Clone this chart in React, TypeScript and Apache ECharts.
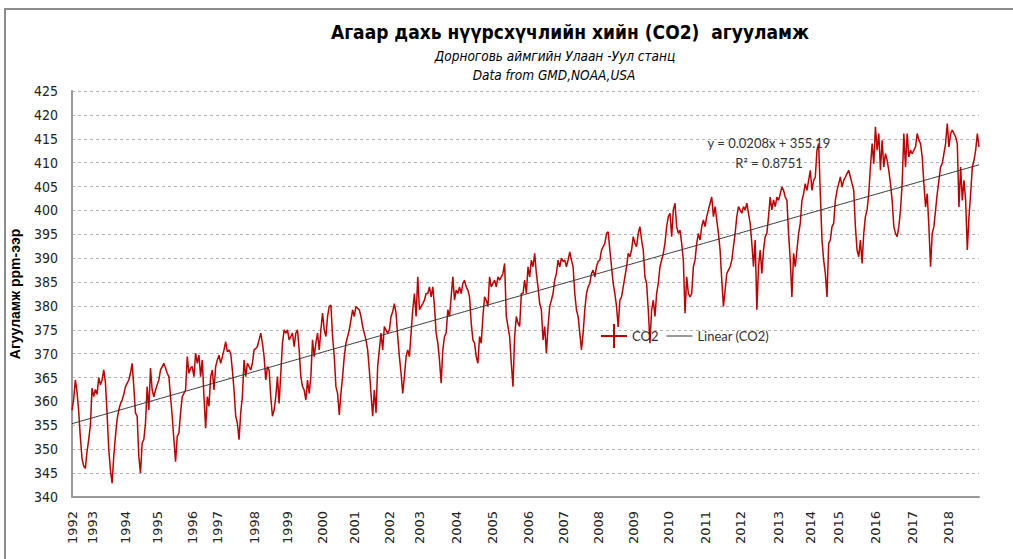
import React, { useEffect, useRef } from "react";
import * as echarts from "echarts";

// Year labels (x axis ticks) and the CO2 samples read for each year (ppm)
const yearLabels = [
  "1992", "1993", "1994", "1995", "1996", "1997", "1998", "1999", "2000",
  "2001", "2002", "2003", "2004", "2005", "2006", "2007", "2008", "2009",
  "2010", "2011", "2012", "2013", "2014", "2015", "2016", "2017", "2018",
];

const d1992 = [358.2, 360.5, 364.5, 362.0, 358.0, 352.5, 348.0, 346.5, 346.0, 349.5, 352.0, 355.0];
const d1993 = [362.8, 361.0, 362.5, 361.5, 365.0, 363.5, 364.5, 366.6, 364.0, 357.5, 350.0, 345.7, 342.9, 348.5, 352.7, 356.2, 358.2, 359.5, 360.3, 361.5];
const d1994 = [363.1, 363.8, 364.5, 365.9, 368.0, 363.1, 357.6, 356.9, 348.5, 345.0, 351.3, 352.0, 355.5, 363.1, 358.2, 367.0, 362.4, 361.0, 362.4];
const d1995 = [363.5, 364.5, 366.6, 367.3, 368.0, 367.0, 365.9, 365.2, 361.0, 356.9, 352.0, 347.4, 352.7, 353.4, 357.6, 361.0, 361.7, 362.4, 369.4, 365.9, 367.0];
const d1996 = [367.3, 365.2, 370.1, 368.0, 369.7, 365.2, 368.7, 361.0, 354.4, 361.0, 359.0, 365.2, 366.6, 362.4, 367.3];
const d1997 = [368.7, 369.7, 368.0, 369.4, 370.8, 372.5, 370.4, 370.8, 370.1, 366.6, 362.4, 356.9, 355.5, 352.0, 357.6, 361.0, 368.7, 365.2, 368.0, 367.3, 366.6, 368.0];
const d1998 = [370.8, 371.1, 371.5, 372.9, 374.3, 372.2, 369.4, 364.5, 367.3, 366.6, 361.0, 356.9, 358.2, 361.0, 365.2, 359.6, 365.9, 372.2, 375.0, 374.3];
const d1999 = [375.0, 372.9, 373.6, 374.3, 371.5, 374.3, 375.0, 370.8, 365.2, 363.1, 362.4, 360.3, 364.5, 361.7, 365.2, 372.9, 369.4, 372.2, 374.3, 370.8, 375.0];
const d2000 = [378.5, 375.0, 373.6, 377.8, 379.9, 380.2, 373.6, 369.4, 363.1, 361.7, 357.2, 361.7, 365.2, 369.4, 372.2, 373.6, 375.0, 377.1, 379.2];
const d2001 = [377.8, 379.9, 379.5, 379.2, 377.8, 375.7, 374.3, 372.9, 370.8, 366.6, 361.7, 356.9, 362.4, 357.6, 367.3, 370.8, 374.3, 370.8, 375.7, 375.0, 374.3];
const d2002 = [375.0, 377.8, 378.8, 380.5, 378.5, 373.6, 369.4, 365.9, 361.7, 365.2, 369.4, 370.8, 369.4, 374.3, 379.2, 382.6, 377.8, 386.1];
const d2003 = [379.2, 379.9, 380.5, 381.2, 382.6, 382.6, 384.0, 381.9, 384.0, 379.9, 374.3, 372.2, 368.7, 363.8, 370.8, 373.6, 374.3, 379.2, 377.8, 381.9, 386.1, 381.2];
const d2004 = [383.3, 382.6, 384.0, 382.6, 384.7, 385.4, 384.0, 383.3, 381.9, 376.4, 372.9, 372.2, 369.4, 368.0, 373.6, 372.2, 377.8, 381.9, 381.2, 379.9, 386.1, 384.0];
const d2005 = [384.7, 385.4, 384.0, 386.1, 385.4, 386.1, 386.8, 388.9, 377.8, 375.7, 373.6, 368.0, 363.1, 373.6, 377.8, 376.4, 375.7, 382.6, 382.6, 385.4, 382.6];
const d2006 = [388.2, 386.1, 389.6, 388.2, 391.0, 386.8, 384.0, 380.5, 379.2, 372.9, 375.7, 370.1, 375.7, 379.9, 381.2, 382.6, 385.4, 386.8, 389.6, 388.2, 390.0];
const d2007 = [389.3, 389.6, 388.2, 389.6, 391.3, 389.6, 388.2, 382.6, 379.2, 377.8, 374.3, 370.8, 374.3, 379.2, 382.6, 384.0, 384.7, 386.8, 387.5, 386.1, 388.2];
const d2008 = [389.3, 389.6, 391.7, 392.4, 393.1, 395.2, 395.5, 391.7, 388.2, 384.7, 382.6, 379.9, 375.6, 381.2, 381.9, 384.0, 386.1, 388.2, 391.0, 390.3, 391.7];
const d2009 = [394.5, 393.1, 392.4, 395.2, 396.6, 393.8, 391.7, 386.1, 384.7, 379.2, 372.2, 379.2, 381.2, 377.8, 382.6, 384.7, 388.2, 389.6, 391.0, 393.1, 396.6];
const d2010 = [398.7, 399.4, 394.5, 400.1, 401.5, 396.6, 395.2, 395.9, 393.1, 389.6, 378.5, 386.1, 382.6, 381.9, 382.6, 388.2, 389.6, 393.1, 395.2, 393.8, 396.6, 398.0];
const d2011 = [396.6, 398.7, 400.1, 401.5, 402.8, 398.7, 400.8, 398.0, 395.2, 391.7, 385.4, 379.9, 383.3, 386.8, 387.5, 388.2, 389.6, 392.4, 395.2, 398.7, 400.8];
const d2012 = [400.1, 399.4, 400.8, 400.1, 401.5, 399.4, 397.3, 393.1, 388.2, 393.8, 379.2, 388.2, 391.7, 386.8, 391.7, 394.5, 395.2, 398.7, 402.8, 400.1, 402.2, 400.8, 402.8];
const d2013 = [402.1, 403.5, 404.9, 404.2, 402.8, 402.1, 395.2, 389.6, 381.9, 391.0, 388.2, 391.7, 395.2, 397.3, 402.1, 403.5, 405.6, 404.2, 406.3];
const d2014 = [408.4, 404.2, 406.3, 407.0, 412.6, 414.0, 403.5, 393.8, 389.6, 386.8, 381.9, 393.1, 393.8, 396.6, 397.3, 402.1, 404.2];
const d2015 = [405.6, 407.0, 404.9, 406.3, 407.0, 407.7, 408.4, 407.0, 405.6, 404.2, 396.6, 391.7, 390.3, 393.8, 388.9, 395.2, 398.7, 400.1, 403.5, 409.1, 414.0, 409.8];
const d2016 = [417.5, 412.6, 416.1, 408.4, 414.7, 409.1, 411.9, 410.5, 408.4, 405.6, 402.1, 396.6, 395.2, 394.5, 396.6, 400.1, 405.6, 416.1, 409.1, 416.1, 411.2, 412.6];
const d2017 = [411.9, 412.6, 413.3, 416.1, 414.7, 414.0, 411.2, 405.6, 400.7, 403.5, 396.6, 388.2, 395.2, 396.6, 400.1, 403.5, 406.3, 409.1, 409.8, 411.9, 414.0, 418.2];
const d2018 = [413.3, 416.1, 416.8, 416.1, 415.4, 414.0, 400.7, 409.1, 402.1, 406.3, 402.1, 391.7, 398.7, 403.5, 409.1, 410.5, 412.6, 416.1, 413.3];

const yearValues = [
  d1992, d1993, d1994, d1995, d1996, d1997, d1998, d1999, d2000,
  d2001, d2002, d2003, d2004, d2005, d2006, d2007, d2008, d2009,
  d2010, d2011, d2012, d2013, d2014, d2015, d2016, d2017, d2018,
];

const yTicks = { min: 340, max: 425, interval: 5 };
const titleText = "Агаар дахь нүүрсхүчлийн хийн (CO2)  агууламж";
const subtitle1 = "Дорноговь аймгийн Улаан -Уул станц";
const subtitle2 = "Data from GMD,NOAA,USA";
const yAxisName = "Агууламж ppm-ээр";
const equationText = "y = 0.0208x + 355.19";
const r2Text = "R² = 0.8751";

const NARROW = "'Liberation Sans Narrow', 'Arial Narrow', 'DejaVu Sans Condensed', sans-serif";
const CAL = "Lato, 'Open Sans', sans-serif";

export default function App() {
  const ref = useRef<HTMLDivElement>(null);

  useEffect(() => {
    document.body.style.margin = "0";
    const chart = echarts.init(ref.current as HTMLDivElement, null, { renderer: "svg" });

    const categories: string[] = [];
    const values: number[] = [];
    const starts = new Set<number>();
    yearValues.forEach((arr, k) => {
      arr.forEach((v, i) => {
        if (i === 0) starts.add(categories.length);
        categories.push(i === 0 ? yearLabels[k] : `${yearLabels[k]}-${i}`);
        values.push(v);
      });
    });

    // least-squares linear trend of the series (like Excel's trendline)
    const n = values.length;
    let sx = 0, sy = 0, sxx = 0, sxy = 0;
    values.forEach((v, i) => {
      sx += i; sy += v; sxx += i * i; sxy += i * v;
    });
    const slope = (n * sxy - sx * sy) / (n * sxx - sx * sx);
    const icpt = (sy - slope * sx) / n;
    const trend = values.map((_, i) => +(icpt + slope * i).toFixed(3));

    const plusIcon = "path://M0,11 L26,11 L26,13 L0,13 Z M12,0 L14,0 L14,24 L12,24 Z";
    const lineIcon = "path://M0,11.5 L26,11.5 L26,12.5 L0,12.5 Z";

    chart.setOption({
      animation: false,
      backgroundColor: "#ffffff",
      title: [
        {
          text: titleText, left: 570, top: 22, textAlign: "center", padding: 0,
          textStyle: { fontFamily: NARROW, fontWeight: "bold", fontSize: 19, color: "#000" },
        },
        {
          text: subtitle1, left: 555, top: 49, textAlign: "center", padding: 0,
          textStyle: { fontFamily: NARROW, fontStyle: "italic", fontWeight: "normal", fontSize: 13.5, color: "#000" },
        },
        {
          text: subtitle2, left: 554, top: 68, textAlign: "center", padding: 0,
          textStyle: { fontFamily: NARROW, fontStyle: "italic", fontWeight: "normal", fontSize: 13.5, color: "#000" },
        },
      ],
      legend: {
        left: 601, top: 324, padding: 0, itemWidth: 26, itemHeight: 24, itemGap: 8,
        textStyle: { fontFamily: CAL, fontSize: 13, color: "#333" },
        data: [
          { name: "CO2", icon: plusIcon },
          { name: "Linear (CO2)", icon: lineIcon },
        ],
      },
      grid: { left: 71, right: 34, top: 91, bottom: 62 },
      xAxis: {
        type: "category",
        data: categories,
        boundaryGap: false,
        axisLine: { show: true, lineStyle: { color: "#9a9a9a", width: 2 } },
        axisTick: { show: false },
        splitLine: { show: false },
        axisLabel: {
          interval: (index: number) => starts.has(index),
          formatter: (v: string) => v.split("-")[0],
          rotate: 90,
          margin: 14,
          fontFamily: "'DejaVu Sans', Verdana, sans-serif",
          fontSize: 13,
          color: "#222",
        },
      },
      yAxis: {
        type: "value",
        min: yTicks.min,
        max: yTicks.max,
        interval: yTicks.interval,
        name: yAxisName,
        nameLocation: "middle",
        nameRotate: 90,
        nameGap: 50,
        nameTextStyle: { fontFamily: "'Liberation Sans', Arial, sans-serif", fontWeight: "bold", fontSize: 14, color: "#000" },
        axisLine: { show: true, lineStyle: { color: "#9a9a9a", width: 2 } },
        axisTick: { show: false },
        axisLabel: { fontFamily: NARROW, fontSize: 14, color: "#222", margin: 14 },
        splitLine: { show: true, lineStyle: { color: "#b5b5b5", type: [3, 3], width: 1 } },
      },
      graphic: [
        {
          type: "rect", z: -10, silent: true,
          shape: { x: 5, y: 9, width: 1100, height: 600 },
          style: { fill: "none", stroke: "#8c8c8c", lineWidth: 2 },
        },
        {
          type: "text", x: 769, y: 143, z: 10,
          style: { text: equationText, align: "center", verticalAlign: "middle", font: `13px ${CAL}`, fill: "#333" },
        },
        {
          type: "text", x: 769, y: 163, z: 10,
          style: { text: r2Text, align: "center", verticalAlign: "middle", font: `13px ${CAL}`, fill: "#333" },
        },
      ],
      series: [
        {
          name: "CO2", type: "line", data: values, symbol: "none", showSymbol: false,
          lineStyle: { color: "#C00000", width: 1.5 }, itemStyle: { color: "#C00000" }, z: 2,
        },
        {
          name: "Linear (CO2)", type: "line", data: trend, symbol: "none", showSymbol: false,
          lineStyle: { color: "#333333", width: 1 }, itemStyle: { color: "#333333" }, z: 3,
        },
      ],
    });

    return () => chart.dispose();
  }, []);

  return <div ref={ref} style={{ width: 1013, height: 559 }} />;
}
